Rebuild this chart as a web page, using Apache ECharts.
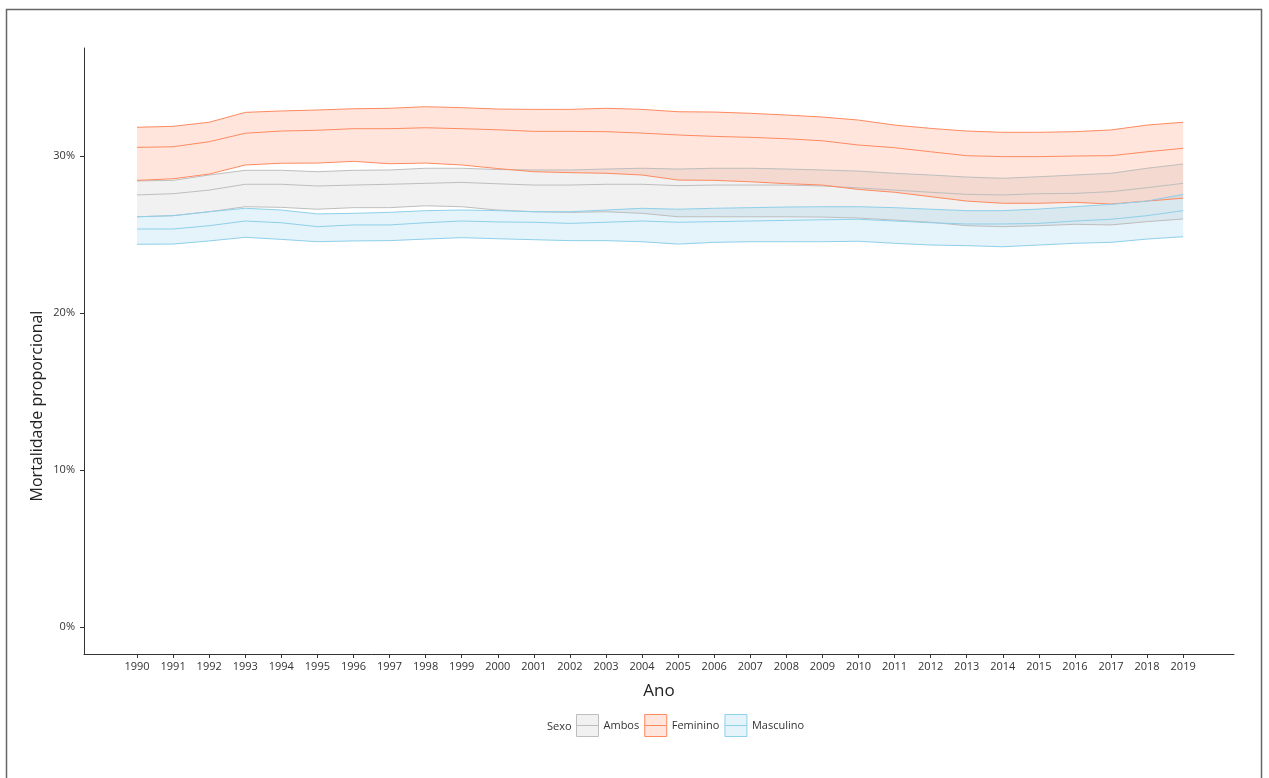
<!DOCTYPE html>
<html>
<head>
<meta charset="utf-8">
<title>Mortalidade proporcional</title>
<script src="https://cdn.jsdelivr.net/npm/echarts@6.0.0/dist/echarts.min.js"></script>
<style>
  html, body { margin: 0; padding: 0; background: #fff; }
  #chart { width: 1269px; height: 778px; }
</style>
</head>
<body>
<div id="chart"></div>
<script>
// anos
const anos = [1990, 1991, 1992, 1993, 1994, 1995, 1996, 1997, 1998, 1999,
  2000, 2001, 2002, 2003, 2004, 2005, 2006, 2007, 2008, 2009,
  2010, 2011, 2012, 2013, 2014, 2015, 2016, 2017, 2018, 2019]

// Ambos (%)
const ambosInf = [26.13, 26.20, 26.45, 26.77, 26.73, 26.61, 26.71, 26.71, 26.83, 26.77,
  26.56, 26.45, 26.41, 26.45, 26.35, 26.13, 26.13, 26.13, 26.13, 26.11,
  26.05, 25.92, 25.78, 25.56, 25.50, 25.56, 25.65, 25.61, 25.82, 25.99]
const ambosMed = [27.52, 27.60, 27.83, 28.20, 28.20, 28.09, 28.15, 28.20, 28.26, 28.32,
  28.23, 28.15, 28.15, 28.20, 28.20, 28.11, 28.15, 28.15, 28.15, 28.09,
  27.97, 27.83, 27.69, 27.56, 27.52, 27.60, 27.62, 27.73, 27.98, 28.26]
const ambosSup = [28.41, 28.45, 28.79, 29.09, 29.09, 29.00, 29.09, 29.11, 29.22, 29.22,
  29.14, 29.11, 29.11, 29.17, 29.22, 29.17, 29.22, 29.22, 29.17, 29.11,
  29.04, 28.90, 28.79, 28.66, 28.58, 28.68, 28.79, 28.90, 29.22, 29.49]

// Feminino (%)
const femInf = [28.45, 28.55, 28.85, 29.43, 29.54, 29.55, 29.66, 29.51, 29.55, 29.43,
  29.20, 29.00, 28.94, 28.90, 28.79, 28.47, 28.45, 28.36, 28.24, 28.15,
  27.87, 27.69, 27.41, 27.13, 26.99, 26.99, 27.05, 26.94, 27.13, 27.31]
const femMed = [30.55, 30.59, 30.91, 31.45, 31.59, 31.64, 31.74, 31.74, 31.80, 31.74,
  31.67, 31.57, 31.57, 31.55, 31.46, 31.34, 31.25, 31.19, 31.10, 30.97,
  30.70, 30.53, 30.27, 30.02, 29.96, 29.96, 30.00, 30.02, 30.27, 30.49]
const femSup = [31.83, 31.89, 32.15, 32.78, 32.87, 32.93, 33.01, 33.04, 33.14, 33.08,
  32.99, 32.97, 32.97, 33.04, 32.97, 32.82, 32.80, 32.72, 32.61, 32.48,
  32.29, 31.97, 31.76, 31.59, 31.51, 31.51, 31.55, 31.66, 31.97, 32.15]

// Masculino (%)
const mascInf = [24.38, 24.39, 24.59, 24.82, 24.69, 24.54, 24.59, 24.61, 24.71, 24.80,
  24.73, 24.67, 24.61, 24.61, 24.54, 24.39, 24.50, 24.54, 24.54, 24.54,
  24.57, 24.44, 24.33, 24.29, 24.22, 24.33, 24.44, 24.50, 24.71, 24.86]
const mascMed = [25.35, 25.35, 25.56, 25.86, 25.75, 25.50, 25.61, 25.61, 25.75, 25.86,
  25.80, 25.78, 25.71, 25.78, 25.86, 25.78, 25.82, 25.86, 25.90, 25.94,
  25.97, 25.86, 25.75, 25.67, 25.67, 25.71, 25.86, 25.97, 26.20, 26.52]
const mascSup = [26.13, 26.20, 26.45, 26.67, 26.56, 26.31, 26.35, 26.41, 26.52, 26.56,
  26.52, 26.45, 26.45, 26.56, 26.67, 26.61, 26.67, 26.71, 26.75, 26.77,
  26.77, 26.71, 26.61, 26.52, 26.52, 26.62, 26.77, 26.92, 27.13, 27.56]

const yTicks = [0, 10, 20, 30]

const grupos = [
  { nome: 'Ambos', inf: ambosInf, med: ambosMed, sup: ambosSup, linha: '#BEBEBE', fundo: 'rgba(190,190,190,0.22)' },
  { nome: 'Feminino', inf: femInf, med: femMed, sup: femSup, linha: '#FF8A60', fundo: 'rgba(255,127,80,0.2)' },
  { nome: 'Masculino', inf: mascInf, med: mascMed, sup: mascSup, linha: '#8FD0EA', fundo: 'rgba(125,195,230,0.2)' }
]

const fonte = '"Open Sans", "DejaVu Sans", sans-serif'

const pares = (vals) => anos.map((a, i) => [a, vals[i]])

// faixa desenhada como um poligono unico (inferior -> superior)
const faixa = (g) => ({
  name: g.nome,
  type: 'custom',
  coordinateSystem: 'cartesian2d',
  data: anos.map((a, i) => [a, g.inf[i], g.sup[i]]),
  encode: { x: 0, y: [1, 2] },
  itemStyle: { color: g.fundo, borderColor: g.linha },
  silent: true,
  clip: true,
  renderItem: (params, api) => {
    if (params.dataIndex !== 0) return null
    const pontos = []
    anos.forEach((a, i) => pontos.push(api.coord([a, g.inf[i]])))
    for (let i = anos.length - 1; i >= 0; i--) pontos.push(api.coord([anos[i], g.sup[i]]))
    return {
      type: 'polygon',
      shape: { points: pontos },
      style: { fill: g.fundo, stroke: null }
    }
  }
})

const linha = (g, nome, vals) => ({
  name: nome,
  type: 'line',
  data: pares(vals),
  symbol: 'none',
  lineStyle: { color: g.linha, width: 1 },
  itemStyle: { color: g.linha },
  silent: true
})

const series = []
grupos.forEach(g => {
  series.push(faixa(g))
  series.push(linha(g, g.nome + ' inf', g.inf))
  series.push(linha(g, g.nome + ' sup', g.sup))
  series.push(linha(g, g.nome + ' med', g.med))
})

const chart = echarts.init(document.getElementById('chart'))

chart.setOption({
  animation: false,
  backgroundColor: '#fff',
  textStyle: { fontFamily: fonte },
  grid: {
    left: 84,
    right: 35,
    top: 48,
    bottom: 124,
    containLabel: false,
    outerBoundsMode: 'none'
  },
  xAxis: {
    type: 'value',
    min: 1988.53,
    max: 2020.41,
    name: 'Ano',
    nameLocation: 'middle',
    nameGap: 29,
    nameTextStyle: { fontSize: 17, color: '#222', fontFamily: fonte },
    axisLine: { onZero: false, lineStyle: { color: '#333', width: 1 } },
    axisTick: { customValues: anos, length: 4, lineStyle: { color: '#333' } },
    axisLabel: {
      customValues: anos,
      formatter: v => String(v),
      margin: 7,
      fontSize: 11,
      color: '#333',
      fontFamily: fonte
    },
    splitLine: { show: false }
  },
  yAxis: {
    type: 'value',
    min: -1.72,
    max: 36.88,
    axisLine: { show: true, onZero: false, lineStyle: { color: '#333', width: 1 } },
    axisTick: { show: true, customValues: yTicks, length: 4, lineStyle: { color: '#333' } },
    axisLabel: {
      customValues: yTicks,
      formatter: v => v + '%',
      margin: 9,
      fontSize: 11,
      color: '#333',
      fontFamily: fonte
    },
    splitLine: { show: false }
  },
  legend: {
    left: 571,
    top: 709,
    orient: 'horizontal',
    itemWidth: 22,
    itemHeight: 22,
    itemGap: 5,
    selectedMode: false,
    textStyle: { fontSize: 11, color: '#333', fontFamily: fonte },
    data: grupos.map(g => ({
      name: g.nome,
      icon: 'path://M0,0H22V22H0ZM0,11H22',
      itemStyle: { color: g.fundo, borderColor: g.linha, borderWidth: 1, opacity: 1 }
    }))
  },
  graphic: [
    {
      type: 'rect',
      silent: true,
      shape: { x: 6.5, y: 9.5, width: 1255, height: 820 },
      style: { fill: 'none', stroke: '#666', lineWidth: 1.5 }
    },
    {
      type: 'text',
      silent: true,
      x: 37,
      y: 406,
      rotation: Math.PI / 2,
      style: {
        text: 'Mortalidade proporcional',
        fontSize: 16,
        fontFamily: fonte,
        fill: '#222',
        align: 'center',
        verticalAlign: 'middle'
      }
    },
    {
      type: 'text',
      silent: true,
      x: 547,
      y: 727,
      style: {
        text: 'Sexo',
        fontSize: 11,
        fontFamily: fonte,
        fill: '#333',
        align: 'left',
        verticalAlign: 'middle'
      }
    }
  ],
  series: series
})

window.addEventListener('resize', () => chart.resize())
</script>
</body>
</html>
